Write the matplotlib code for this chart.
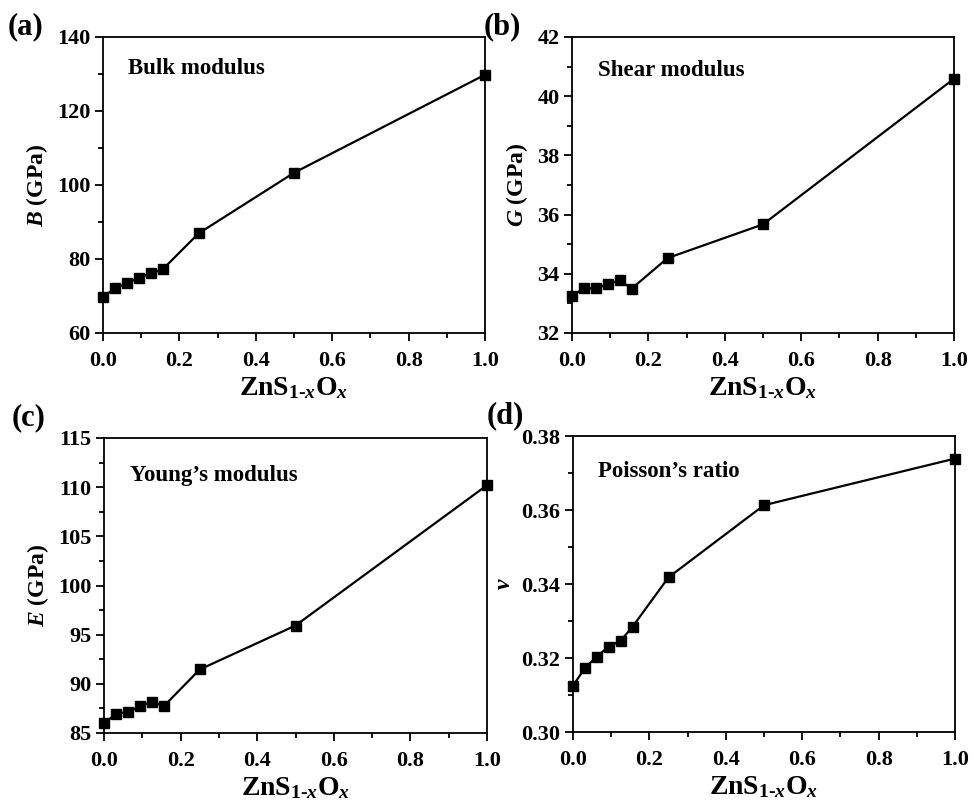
import matplotlib
matplotlib.use("Agg")
import matplotlib.pyplot as plt
from matplotlib.ticker import MultipleLocator

plt.rcParams['font.family'] = ['Liberation Serif', 'DejaVu Serif']
plt.rcParams['font.weight'] = 'bold'
plt.rcParams['mathtext.fontset'] = 'custom'
plt.rcParams['mathtext.rm'] = 'Liberation Serif:bold'
plt.rcParams['mathtext.bf'] = 'Liberation Serif:bold'
plt.rcParams['mathtext.it'] = 'Liberation Serif:bold:italic'

x = [0.0, 0.03125, 0.0625, 0.09375, 0.125, 0.15625, 0.25, 0.5, 1.0]
bulk = [69.6, 72.2, 73.4, 75.0, 76.1, 77.2, 86.9, 103.3, 129.8]
shear = [33.25, 33.51, 33.51, 33.65, 33.78, 33.50, 34.53, 35.67, 40.59]
young = [85.97, 86.95, 87.12, 87.73, 88.2, 87.73, 91.46, 95.93, 110.2]
poisson = [0.3125, 0.3173, 0.3204, 0.3231, 0.3247, 0.3285, 0.3418, 0.3613, 0.3739]

W, H = 975, 808
fig = plt.figure(figsize=(W / 100, H / 100), dpi=100)

def px_axes(l, t, r, b):
    return fig.add_axes([l / W, 1 - b / H, (r - l) / W, (b - t) / H])

panels = [
    dict(box=(103, 37, 485, 333), y=bulk, ylim=(60, 140), major=20, minor=10,
         ylabel=r'$B$ (GPa)', title='Bulk modulus', tpos=(128, 69), tag='(a)', tagpos=(8, 27),
         fmt='{:.0f}'),
    dict(box=(572, 37, 954, 333), y=shear, ylim=(32, 42), major=2, minor=1,
         ylabel=r'$G$ (GPa)', title='Shear modulus', tpos=(598, 70), tag='(b)', tagpos=(484, 27),
         fmt='{:.0f}'),
    dict(box=(104, 438, 487, 733), y=young, ylim=(85, 115), major=5, minor=2.5,
         ylabel=r'$E$ (GPa)', title='Young\u2019s modulus', tpos=(130, 475), tag='(c)', tagpos=(12, 418),
         fmt='{:.0f}'),
    dict(box=(573, 436, 955, 732), y=poisson, ylim=(0.30, 0.38), major=0.02, minor=0.01,
         ylabel=r'$v$', title='Poisson\u2019s ratio', tpos=(598, 472), tag='(d)', tagpos=(487, 416),
         fmt='{:.2f}'),
]

for p in panels:
    ax = px_axes(*p['box'])
    ax.plot(x, p['y'], color='black', lw=1.6, marker='s', ms=7.5, mfc='black', mec='black',
            clip_on=False, zorder=3)
    ax.set_xlim(0, 1.0)
    ax.set_ylim(*p['ylim'])
    ax.xaxis.set_major_locator(MultipleLocator(0.2))
    ax.xaxis.set_minor_locator(MultipleLocator(0.1))
    ax.yaxis.set_major_locator(MultipleLocator(p['major']))
    ax.yaxis.set_minor_locator(MultipleLocator(p['minor']))
    xt = [v for v in ax.get_xticks() if -1e-9 <= v <= 1.0 + 1e-9]
    ax.set_xticks(xt)
    ax.set_xticklabels(['{:.1f}'.format(v) for v in xt])
    ax.set_xlim(0, 1.0)
    yt = [v for v in ax.get_yticks() if p['ylim'][0] - 1e-9 <= v <= p['ylim'][1] + 1e-9]
    ax.set_yticks(yt)
    ax.set_yticklabels([p['fmt'].format(v) for v in yt])
    ax.set_ylim(*p['ylim'])
    ax.tick_params(which='both', direction='out', top=False, right=False, width=1.3,
                   labelsize=16)
    ax.tick_params(axis='x', which='major', pad=7)
    ax.tick_params(axis='y', which='major', pad=3)
    ax.tick_params(which='major', length=6)
    ax.tick_params(which='minor', length=3.5)
    for s in ax.spines.values():
        s.set_linewidth(1.3)
    ax.set_xlabel(r'ZnS$_{\mathrm{1}\text{-}x}$O$_{x}$', fontsize=20, fontweight='bold', labelpad=3)
    ax.set_ylabel(p['ylabel'], fontsize=17, fontweight='bold', labelpad=5)
    fig.text(p['tpos'][0] / W, 1 - p['tpos'][1] / H, p['title'], fontsize=16.5, fontweight='bold',
             ha='left', va='center')
    fig.text(p['tagpos'][0] / W, 1 - p['tagpos'][1] / H, p['tag'], fontsize=22, fontweight='bold',
             ha='left', va='center')

fig.savefig('out.png', dpi=100)
